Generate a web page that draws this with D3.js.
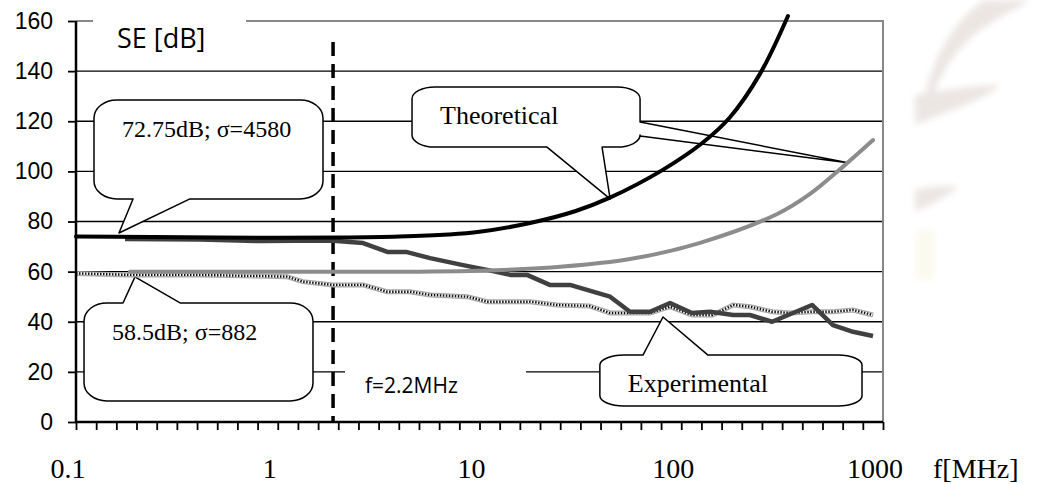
<!DOCTYPE html>
<html>
<head>
<meta charset="utf-8">
<script src="https://cdn.jsdelivr.net/npm/d3@7"></script>
<style>
  body { margin: 0; background: #fff; }
  svg { display: block; }
</style>
</head>
<body>
<svg id="chart" width="1043" height="484"></svg>
<script>

// values (frequency in MHz, SE in dB)
let theoBlackFreq = [0.1, 0.5, 1, 2, 4, 7, 10, 17.8, 30, 44, 81, 128, 174, 246, 338]
let theoBlackSE   = [74, 73.6, 73.5, 73.6, 74, 74.8, 75.9, 79.4, 84.2, 89.4, 100.6, 111.5, 121.5, 139, 162]

let theoGrayFreq = [0.185, 1, 5, 10, 26, 55.7, 124, 299, 435, 632, 893]
let theoGraySE   = [60, 60, 60, 60.3, 62, 65, 71.5, 83, 91, 101.8, 112.5]

let expDarkFreq = [0.175, 0.412, 0.817, 1.82, 2.65, 3.52, 4.37, 5.69, 8.29, 10.9, 14.2, 17.2, 22.3, 28.1,
                   36.5, 44.4, 55.7, 70, 88, 113, 139, 181, 219, 282, 445, 565, 710, 892]
let expDarkSE   = [73, 72.8, 72.2, 72.4, 71.4, 67.8, 67.8, 65.4, 62.6, 60.7, 58.7, 58.7, 54.7, 54.7,
                   52, 50, 44, 44, 47.5, 43.5, 44, 42.7, 42.7, 40, 46.7, 38.7, 36, 34.3]

let expLightFreq = [0.1, 0.185, 0.412, 1.11, 1.33, 1.88, 2.65, 3.48, 4.52, 5.69, 8.7, 10.9, 17.8, 24.2,
                    35, 44.4, 70, 88, 113, 143, 181, 219, 282, 347, 445, 565, 710, 892]
let expLightSE   = [59.3, 58.7, 58.7, 58, 56, 54.7, 54.7, 52, 52, 50.7, 50, 48, 48, 46.7,
                    46.3, 43.5, 43.5, 46, 42.7, 42.7, 46.7, 46, 44, 43.5, 44, 44, 44.7, 42.7]

let decadeLabels = [0.1, 1, 10, 100, 1000]
let seTicks = [0, 20, 40, 60, 80, 100, 120, 140, 160]
let cutoffFreq = 1.88   // where the dashed f=2.2MHz line is drawn

let callouts = [
  {text: "72.75dB; σ=4580", size: 24, f: [0.1228, 1.676], se: [128.5, 89],
   wedges: [{side: "bottom", base: [0.1917, 0.367], tip: [0.1633, 75.4]}]},
  {text: "58.5dB; σ=882", size: 24, f: [0.1096, 1.495], se: [47.5, 8.4],
   wedges: [{side: "top", base: [0.171, 0.328], tip: [0.196, 57.9]}]},
  {text: "Theoretical", size: 26, f: [4.63, 62.5], se: [133.7, 109.7],
   wedges: [{side: "bottom", base: [21.6, 40.5], tip: [44.4, 89]},
            {side: "right", base: [119.7, 114.1], tip: [671, 103.4]}]},
  {text: "Experimental", size: 26, f: [39.5, 787], se: [26.7, 6.4],
   wedges: [{side: "top", base: [64.6, 135.7], tip: [81.2, 41.9]}]}
]

let svg = d3.select("#chart")

let x = d3.scaleLog().domain([0.1, 1000]).range([76, 883])
let y = d3.scaleLinear().domain([0, 160]).range([422, 21])

// faint watermark on the right
let defs = svg.append("defs")
defs.append("filter").attr("id", "blur").append("feGaussianBlur").attr("stdDeviation", 3)
let wm = svg.append("g").attr("filter", "url(#blur)").attr("fill", "#e4dcd8").attr("opacity", 0.7)
wm.append("path").attr("d", "M1030,0 C1000,20 960,30 935,90 L925,95 C935,50 960,15 985,0 Z")
wm.append("path").attr("d", "M915,95 C940,90 975,85 1000,85 C985,100 950,110 915,125 Z")
wm.append("path").attr("d", "M915,190 C930,186 950,185 958,187 C945,198 930,205 915,212 Z")
svg.append("rect").attr("x", 915).attr("y", 230).attr("width", 20).attr("height", 50)
   .attr("fill", "#fbfaf0").attr("filter", "url(#blur)")

// grid
svg.append("g")
   .selectAll("line")
   .data(seTicks.filter(function(v) { return v > 0 && v < 160 }))
   .enter()
   .append("line")
   .attr("x1", x.range()[0]).attr("x2", x.range()[1])
   .attr("y1", function(v) { return y(v) }).attr("y2", function(v) { return y(v) })
   .attr("stroke", "#000").attr("stroke-width", 1.3)

// gray frame top and right
svg.append("path")
   .attr("d", "M" + x.range()[0] + "," + y(160) + "H" + x.range()[1] + "V" + y(0))
   .attr("fill", "none").attr("stroke", "#888").attr("stroke-width", 2)

// white boxes behind the free labels
svg.append("rect").attr("x", 93).attr("y", 8).attr("width", 153).attr("height", 52).attr("fill", "#fff")
svg.append("rect").attr("x", 345).attr("y", 362).attr("width", 181).attr("height", 50).attr("fill", "#fff")

// callouts
function calloutPath(c) {
  let x0 = x(c.f[0]), x1 = x(c.f[1]), y0 = y(c.se[0]), y1 = y(c.se[1])
  let w = x1 - x0, h = y1 - y0
  let rx = Math.min(0.1 * w, 24), ry = Math.min(0.2 * h, 18)
  let arc = " A" + rx + "," + ry + " 0 0 1 "
  let wedge = function(side) {
    return c.wedges.filter(function(d) { return d.side == side })[0]
  }
  let pt = function(a, b) { return a + "," + b }
  let d = "M" + pt(x0 + rx, y0)
  let t = wedge("top")
  if (t) {
    d += "L" + pt(x(t.base[0]), y0) + "L" + pt(x(t.tip[0]), y(t.tip[1])) + "L" + pt(x(t.base[1]), y0)
  }
  d += "L" + pt(x1 - rx, y0) + arc + pt(x1, y0 + ry)
  let r = wedge("right")
  if (r) {
    d += "L" + pt(x1, y(r.base[0])) + "L" + pt(x(r.tip[0]), y(r.tip[1])) + "L" + pt(x1, y(r.base[1]))
  }
  d += "L" + pt(x1, y1 - ry) + arc + pt(x1 - rx, y1)
  let b = wedge("bottom")
  if (b) {
    d += "L" + pt(x(b.base[1]), y1) + "L" + pt(x(b.tip[0]), y(b.tip[1])) + "L" + pt(x(b.base[0]), y1)
  }
  d += "L" + pt(x0 + rx, y1) + arc + pt(x0, y1 - ry)
  d += "L" + pt(x0, y0 + ry) + arc + pt(x0 + rx, y0) + "Z"
  return d
}

let boxes = svg.append("g")
               .selectAll("g")
               .data(callouts)
               .enter()
               .append("g")

boxes.append("path")
     .attr("d", calloutPath)
     .attr("fill", "#fff").attr("stroke", "#000").attr("stroke-width", 1.5)
     .attr("stroke-linejoin", "round")

boxes.append("text")
     .attr("x", function(c) { return x(c.f[0]) + 28 })
     .attr("y", function(c) { return y(c.se[0]) + 37 })
     .attr("font-family", "'Liberation Serif', 'Times New Roman', serif")
     .attr("font-size", function(c) { return c.size })
     .attr("fill", "#000")
     .text(function(c) { return c.text })

// dashed cutoff line
svg.append("line")
   .attr("x1", x(cutoffFreq)).attr("x2", x(cutoffFreq))
   .attr("y1", 42).attr("y2", y(0))
   .attr("stroke", "#000").attr("stroke-width", 3.5).attr("stroke-dasharray", "14,8")

// series
let smooth = d3.line().x(function(d) { return x(d[0]) }).y(function(d) { return y(d[1]) }).curve(d3.curveCatmullRom.alpha(0.5))
let straight = d3.line().x(function(d) { return x(d[0]) }).y(function(d) { return y(d[1]) })

let zip = function(a, b) { return a.map(function(v, i) { return [v, b[i]] }) }

let light = zip(expLightFreq, expLightSE)
svg.append("path").attr("d", straight(light)).attr("fill", "none")
   .attr("stroke", "#a8a8a8").attr("stroke-width", 5)
svg.append("path").attr("d", straight(light)).attr("fill", "none")
   .attr("stroke", "#fff").attr("stroke-width", 2.4)
svg.append("path").attr("d", straight(light)).attr("fill", "none")
   .attr("stroke", "#111").attr("stroke-width", 2.4).attr("stroke-dasharray", "1.5,1.5")

svg.append("path").attr("d", straight(zip(expDarkFreq, expDarkSE))).attr("fill", "none")
   .attr("stroke", "#404040").attr("stroke-width", 4.5).attr("stroke-linejoin", "round")

svg.append("path").attr("d", smooth(zip(theoGrayFreq, theoGraySE))).attr("fill", "none")
   .attr("stroke", "#8c8c8c").attr("stroke-width", 4).attr("stroke-linecap", "round")

svg.append("path").attr("d", smooth(zip(theoBlackFreq, theoBlackSE))).attr("fill", "none")
   .attr("stroke", "#000").attr("stroke-width", 4).attr("stroke-linecap", "round")

// axes
let xTicks = d3.range(41).map(function(k) { return 0.1 * Math.pow(10, k / 10) })

svg.append("g")
   .attr("transform", "translate(0," + y(0) + ")")
   .call(d3.axisBottom(x).tickValues(xTicks).tickSize(8).tickFormat(""))
   .call(function(g) {
     g.select(".domain").attr("stroke-width", 2.5).attr("d", "M" + x.range()[0] + ",0H" + x.range()[1])
     g.selectAll(".tick line").attr("stroke-width", 1.8)
   })

svg.append("g")
   .attr("transform", "translate(" + x(0.1) + ",0)")
   .call(d3.axisLeft(y).tickValues(seTicks).tickSize(8).tickPadding(15))
   .call(function(g) {
     g.select(".domain").attr("stroke-width", 2.5).attr("d", "M0," + y(160) + "V" + y(0))
     g.selectAll(".tick line").attr("stroke-width", 1.8)
     g.selectAll(".tick text")
      .attr("font-family", "'Liberation Sans', Arial, sans-serif")
      .attr("font-size", 23)
      .attr("fill", "#000")
   })

svg.append("g")
   .selectAll("text")
   .data(decadeLabels)
   .enter()
   .append("text")
   .attr("x", function(v) { return x(v) - 8 })
   .attr("y", 478)
   .attr("text-anchor", "middle")
   .attr("font-family", "'Liberation Serif', 'Times New Roman', serif")
   .attr("font-size", 28)
   .text(function(v) { return v })

svg.append("text")
   .attr("x", x(1000) + 50).attr("y", 478)
   .attr("font-family", "'Liberation Serif', 'Times New Roman', serif")
   .attr("font-size", 28)
   .text("f[MHz]")

svg.append("text")
   .attr("x", 117).attr("y", 48)
   .attr("font-family", "'Open Sans', sans-serif")
   .attr("font-size", 27)
   .text("SE [dB]")

svg.append("text")
   .attr("x", 365).attr("y", 393)
   .attr("font-family", "'Open Sans', sans-serif")
   .attr("font-size", 21)
   .text("f=2.2MHz")

</script>
</body>
</html>
